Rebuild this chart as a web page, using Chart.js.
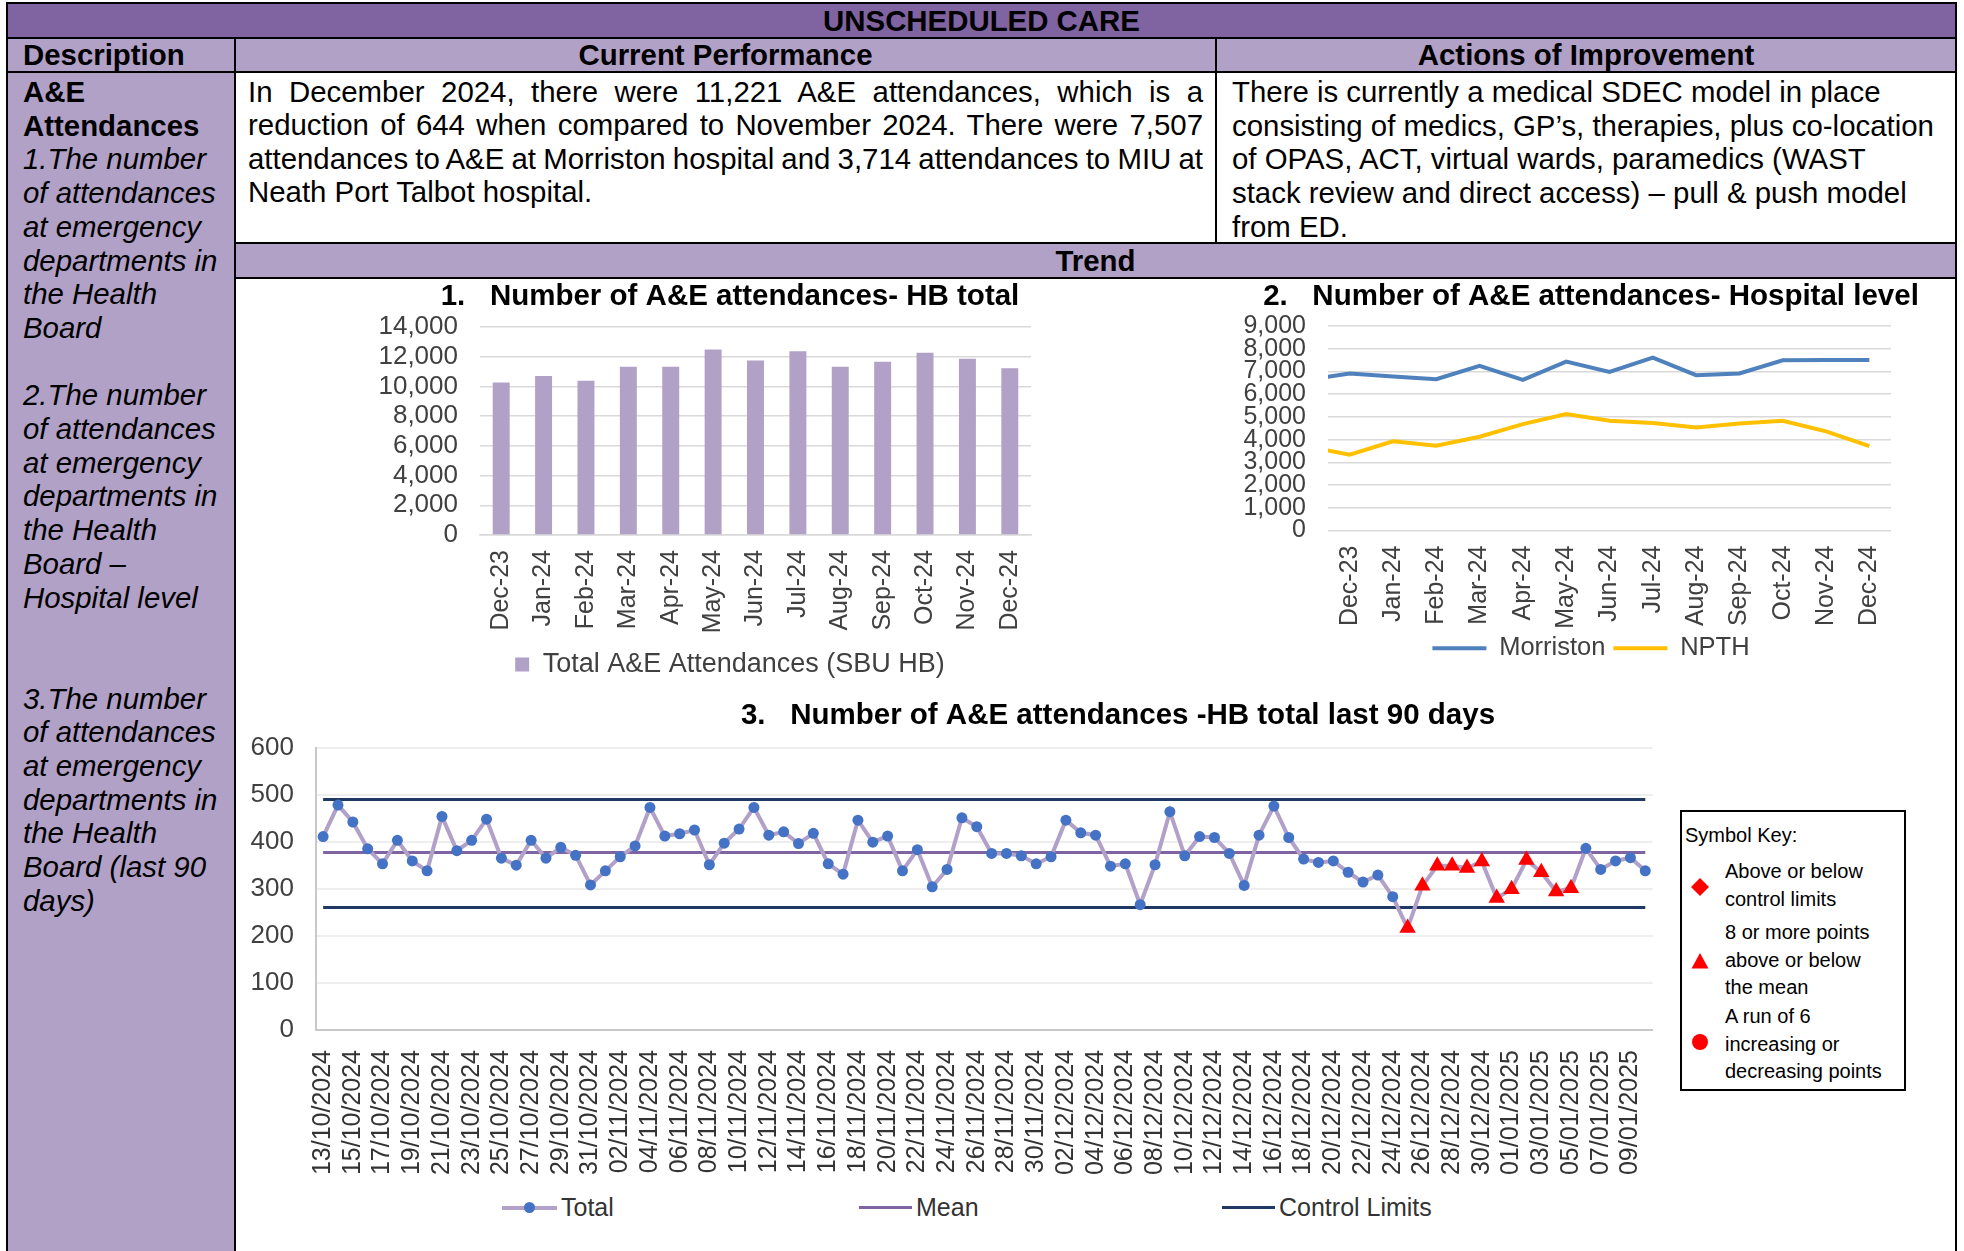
<!DOCTYPE html>
<html lang="en">
<head>
<meta charset="utf-8">
<title>Unscheduled Care - A&amp;E attendances</title>
<script src="https://cdn.jsdelivr.net/npm/chart.js@4.4.1/dist/chart.umd.min.js"></script>
<style>
  html, body { margin: 0; padding: 0; }
  body {
    width: 1964px; height: 1251px; overflow: hidden; position: relative;
    background: #fff; color: #000;
    font-family: 'Liberation Sans', Arial, sans-serif;
  }
  .box { position: absolute; box-sizing: border-box; }
  .grid { left: 6px; top: 2px; width: 1951px; height: 1260px; background: #000; }
  .dark { background: #8064a2; }
  .light { background: #b2a1c7; }
  .white { background: #fff; }
  .head { font-size: 29.4px; font-weight: bold; text-align: center; }
  .txt { font-size: 29.4px; line-height: 33.7px; white-space: nowrap; }
  .just { text-align: justify; text-align-last: justify; }
  .chart { position: absolute; }
  .leg { position: absolute; font-size: 25px; line-height: 31px; color: #333; white-space: nowrap; }
  .key { font-size: 20px; line-height: 27.5px; white-space: nowrap; }
  .key div { position: absolute; }
</style>
</head>
<body>

<!-- table frame: black background shows through the gaps as cell borders -->
<div class="box grid"></div>
<div class="box dark head" style="left:8px;top:4px;width:1947px;height:33px;line-height:33px;">UNSCHEDULED CARE</div>
<div class="box light head" style="left:8px;top:39px;width:226px;height:32px;line-height:32px;text-align:left;padding-left:15px;">Description</div>
<div class="box light head" style="left:236px;top:39px;width:979px;height:32px;line-height:32px;">Current Performance</div>
<div class="box light head" style="left:1217px;top:39px;width:738px;height:32px;line-height:32px;">Actions of Improvement</div>

<div class="box light txt" style="left:8px;top:73px;width:226px;height:1180px;padding:2px 0 0 15px;">
  <b>A&amp;E<br>Attendances</b><br>
  <i>1.The number<br>of attendances<br>at emergency<br>departments in<br>the Health<br>Board<br><br>2.The number<br>of attendances<br>at emergency<br>departments in<br>the Health<br>Board –<br>Hospital level<br><br><br>3.The number<br>of attendances<br>at emergency<br>departments in<br>the Health<br>Board (last 90<br>days)</i>
</div>

<div class="box white txt" style="left:236px;top:73px;width:979px;height:169px;padding:2px 12px 0 12px;line-height:33.4px;">
  <div class="just">In December 2024, there were 11,221 A&amp;E attendances, which is a</div>
  <div class="just">reduction of 644 when compared to November 2024. There were 7,507</div>
  <div class="just" style="word-spacing:-1.4px;">attendances to A&amp;E at Morriston hospital and 3,714 attendances to MIU at</div>
  <div>Neath Port Talbot hospital.</div>
</div>

<div class="box white txt" style="left:1217px;top:73px;width:738px;height:169px;padding:2px 0 0 15px;">
  There is currently a medical SDEC model in place<br>
  consisting of medics, GP’s, therapies, plus co-location<br>
  of OPAS, ACT, virtual wards, paramedics (WAST<br>
  stack review and direct access) – pull &amp; push model<br>
  from ED.
</div>

<div class="box light head" style="left:236px;top:244px;width:1719px;height:33px;line-height:33px;">Trend</div>
<div class="box white" style="left:236px;top:279px;width:1719px;height:980px;"></div>

<div class="chart" style="left:370px;top:278px;width:720px;height:412px;"><canvas id="hbTotalChart"></canvas></div>
<div class="chart" style="left:1231px;top:278px;width:720px;height:400px;"><canvas id="hospitalChart"></canvas></div>
<div class="chart" style="left:240px;top:690px;width:1756px;height:500px;"><canvas id="dailyChart"></canvas></div>

<!-- legend for the 90 day chart -->
<div class="box" style="left:502px;top:1205.5px;width:55px;height:4px;background:#b1a0c7;"></div>
<div class="box" style="left:524px;top:1202px;width:11px;height:11px;border-radius:50%;background:#4472c4;"></div>
<div class="leg" style="left:561px;top:1192px;">Total</div>
<div class="box" style="left:859px;top:1206px;width:53px;height:3px;background:#8064a2;"></div>
<div class="leg" style="left:916px;top:1192px;">Mean</div>
<div class="box" style="left:1222px;top:1206px;width:53px;height:3px;background:#1f3864;"></div>
<div class="leg" style="left:1279px;top:1192px;">Control Limits</div>

<!-- SPC symbol key -->
<div class="box key" style="left:1680px;top:810px;width:226px;height:281px;border:2px solid #000;background:#fff;">
  <div style="left:3px;top:10px;">Symbol Key:</div>
  <svg style="position:absolute;left:0;top:0;" width="40" height="270">
    <polygon points="18,66 27,75 18,84 9,75" fill="#ff0000"/>
    <polygon points="18,141 26.5,156.5 9.5,156.5" fill="#ff0000"/>
    <circle cx="18" cy="230" r="8" fill="#ff0000"/>
  </svg>
  <div style="left:43px;top:46px;">Above or below<br>control limits</div>
  <div style="left:43px;top:107px;">8 or more points<br>above or below<br>the mean</div>
  <div style="left:43px;top:191px;">A run of 6<br>increasing or<br>decreasing points</div>
</div>

<script>
// 1. HB total by month
const months = ['Dec-23', 'Jan-24', 'Feb-24', 'Mar-24', 'Apr-24', 'May-24', 'Jun-24',
                'Jul-24', 'Aug-24', 'Sep-24', 'Oct-24', 'Nov-24', 'Dec-24'];
const hbTotal = [10270, 10700, 10380, 11320, 11320, 12480, 11750, 12370, 11320, 11660, 12260, 11865, 11221];

// 2. Hospital level - Nov-23 only shows as the stub of line at the left edge
const hospitalMonths = ['Nov-23', 'Dec-23', 'Jan-24', 'Feb-24', 'Mar-24', 'Apr-24', 'May-24', 'Jun-24',
                        'Jul-24', 'Aug-24', 'Sep-24', 'Oct-24', 'Nov-24', 'Dec-24'];
const morriston = [6630, 6908, 6776, 6659, 7244, 6630, 7435, 6981, 7610, 6835, 6908, 7490, 7500, 7507];
const npth = [3700, 3337, 3922, 3732, 4127, 4683, 5122, 4830, 4727, 4537, 4712, 4830, 4365, 3714];

// 3. Daily attendances, 13/10/2024 - 10/01/2025
const dailyTotal = [
  412, 479, 443, 386, 354, 404, 360, 339, 455, 382,
  404, 449, 366, 351, 404, 366, 389, 372, 309, 339,
  369, 392, 474, 413, 418, 426, 352, 398, 428, 474,
  415, 422, 397, 419, 354, 332, 447, 400, 413, 339,
  384, 305, 342, 452, 433, 376, 376, 371, 354, 369,
  447, 420, 415, 349, 354, 267, 352, 465, 371, 412,
  410, 376, 308, 415, 477, 410, 364, 357, 360, 336,
  315, 330, 284, 217, 307, 350, 350, 345, 359, 281,
  300, 362, 336, 295, 302, 387, 342, 360, 367, 339
];
const meanLevel = 378;
const upperLimit = 491;
const lowerLimit = 261;
// points flagged as "8 or more points below the mean"
const belowMeanRun = [73, 74, 75, 76, 77, 78, 79, 80, 81, 82, 83, 84];

const dayLabels = dailyTotal.map((_, i) => {
    const d = new Date(2024, 9, 13 + i);
    const dd = String(d.getDate()).padStart(2, '0');
    const mm = String(d.getMonth() + 1).padStart(2, '0');
    return dd + '/' + mm + '/' + d.getFullYear();
});

Chart.defaults.font.family = "'Liberation Sans', Arial, sans-serif";
Chart.defaults.color = '#404040';
Chart.defaults.animation = false;
Chart.defaults.plugins.tooltip.enabled = false;

const titleFont = { size: 29.5, weight: 'bold' };
const withCommas = v => v.toLocaleString('en-US');

// empty axis on the right, so the title/legend centre over the whole chart box
// while the plot area stops short of the right edge (as in the Excel charts)
const rightGap = width => ({
    position: 'right',
    grid: { display: false, drawTicks: false },
    border: { display: false },
    ticks: { display: false },
    afterFit: s => { s.width = width; }
});

class UnscheduledCareCharts {
    constructor() {
        this.createHbTotalChart();
        this.createHospitalChart();
        this.createDailyChart();
    }

    createHbTotalChart() {
        const ctx = document.getElementById('hbTotalChart');
        this.hbTotalChart = new Chart(ctx, {
            type: 'bar',
            data: {
                labels: months,
                datasets: [{
                    label: 'Total A&E Attendances (SBU HB)',
                    data: hbTotal,
                    backgroundColor: '#b2a1c7',
                    barPercentage: 0.4,
                    categoryPercentage: 1
                }]
            },
            options: {
                responsive: true,
                maintainAspectRatio: false,
                layout: { padding: { left: 0, right: 0, top: 0, bottom: 2 } },
                plugins: {
                    title: {
                        display: true,
                        text: '1.   Number of A&E attendances- HB total',
                        color: '#000',
                        font: titleFont,
                        padding: { top: 1.3, bottom: 12.3 }
                    },
                    legend: {
                        position: 'bottom',
                        labels: { boxWidth: 14, boxHeight: 14, padding: 10, font: { size: 27 } }
                    }
                },
                scales: {
                    x: {
                        grid: { display: false, drawTicks: false },
                        border: { color: '#d9d9d9', width: 1.5 },
                        ticks: { autoSkip: false, minRotation: 90, maxRotation: 90, padding: 15, font: { size: 25 } },
                        afterFit: s => { s.height = 106; }
                    },
                    y: {
                        min: 0,
                        max: 14000,
                        grid: { color: '#d9d9d9', lineWidth: 1.5, drawTicks: false },
                        border: { display: false },
                        ticks: { stepSize: 2000, autoSkip: false, padding: 22, font: { size: 26 }, callback: withCommas },
                        afterFit: s => { s.width = 110; }
                    },
                    gap: rightGap(59)
                }
            }
        });
    }

    createHospitalChart() {
        const ctx = document.getElementById('hospitalChart');
        const toPoints = arr => arr.map((v, i) => ({ x: i, y: v }));
        this.hospitalChart = new Chart(ctx, {
            type: 'line',
            data: {
                datasets: [{
                    label: 'Morriston',
                    data: toPoints(morriston),
                    borderColor: '#4f81bd',
                    backgroundColor: '#4f81bd',
                    borderWidth: 4,
                    pointRadius: 0
                }, {
                    label: 'NPTH',
                    data: toPoints(npth),
                    borderColor: '#ffc000',
                    backgroundColor: '#ffc000',
                    borderWidth: 4,
                    pointRadius: 0
                }]
            },
            options: {
                responsive: true,
                maintainAspectRatio: false,
                layout: { padding: { left: 0, right: 0, top: 0, bottom: 7 } },
                plugins: {
                    title: {
                        display: true,
                        text: '2.   Number of A&E attendances- Hospital level',
                        color: '#000',
                        font: titleFont,
                        padding: { top: 1.3, bottom: 11.3 }
                    },
                    legend: {
                        position: 'bottom',
                        labels: { usePointStyle: true, pointStyle: 'line', pointStyleWidth: 54, padding: 8, font: { size: 25.5 } }
                    }
                },
                scales: {
                    x: {
                        type: 'linear',
                        min: 0.5,
                        max: 13.5,
                        grid: { display: false, drawTicks: false },
                        border: { display: false },
                        ticks: {
                            autoSkip: false, minRotation: 90, maxRotation: 90,
                            padding: 15, font: { size: 25 },
                            callback: v => hospitalMonths[v]
                        },
                        // one tick per month that is on show (Dec-23 .. Dec-24)
                        afterBuildTicks: s => {
                            s.ticks = hospitalMonths.slice(1).map((_, i) => ({ value: i + 1 }));
                        },
                        afterFit: s => { s.height = 97; }
                    },
                    y: {
                        min: 0,
                        max: 9000,
                        grid: { color: '#d9d9d9', lineWidth: 1.5, drawTicks: false },
                        border: { display: false },
                        ticks: { stepSize: 1000, autoSkip: false, padding: 22, font: { size: 25 }, callback: withCommas },
                        afterFit: s => { s.width = 97; }
                    },
                    gap: rightGap(60)
                }
            }
        });
    }

    createDailyChart() {
        const ctx = document.getElementById('dailyChart');
        const flagged = dailyTotal.map((_, i) => belowMeanRun.includes(i));
        const flat = level => dailyTotal.map(() => level);
        this.dailyChart = new Chart(ctx, {
            type: 'line',
            data: {
                labels: dayLabels,
                datasets: [{
                    label: 'Total',
                    data: dailyTotal,
                    borderColor: '#b1a0c7',
                    borderWidth: 4,
                    pointStyle: flagged.map(f => f ? 'triangle' : 'circle'),
                    pointRadius: flagged.map(f => f ? 9.5 : 5.5),
                    pointBackgroundColor: flagged.map(f => f ? '#ff0000' : '#4472c4'),
                    pointBorderWidth: 0
                }, {
                    label: 'Mean',
                    data: flat(meanLevel),
                    borderColor: '#8064a2',
                    borderWidth: 3,
                    pointRadius: 0
                }, {
                    label: 'Control Limits',
                    data: flat(upperLimit),
                    borderColor: '#1f3864',
                    borderWidth: 3,
                    pointRadius: 0
                }, {
                    label: 'Lower Control Limit',
                    data: flat(lowerLimit),
                    borderColor: '#1f3864',
                    borderWidth: 3,
                    pointRadius: 0
                }]
            },
            options: {
                responsive: true,
                maintainAspectRatio: false,
                layout: { padding: { left: 0, right: 0, top: 0, bottom: 0 } },
                plugins: {
                    title: {
                        display: true,
                        text: '3.   Number of A&E attendances -HB total last 90 days',
                        color: '#000',
                        font: titleFont,
                        padding: { top: 8.3, bottom: 14.6 }
                    },
                    legend: { display: false }
                },
                scales: {
                    x: {
                        offset: true,
                        grid: { display: false, drawTicks: false },
                        border: { color: '#c8c8c8', width: 2 },
                        ticks: {
                            autoSkip: false, minRotation: 90, maxRotation: 90,
                            padding: 20, color: '#333', font: { size: 25 },
                            callback: (v, i) => i % 2 === 0 ? dayLabels[i] : ''
                        },
                        afterFit: s => { s.height = 160; }
                    },
                    y: {
                        min: 0,
                        max: 600,
                        grid: { color: '#eeeeee', lineWidth: 2, drawTicks: false },
                        border: { color: '#c8c8c8', width: 2 },
                        ticks: { stepSize: 100, autoSkip: false, padding: 21.7, font: { size: 26 } },
                        afterFit: s => { s.width = 75.7; }
                    },
                    gap: rightGap(343.3)
                }
            }
        });
    }
}

window.careCharts = new UnscheduledCareCharts();
</script>
</body>
</html>
